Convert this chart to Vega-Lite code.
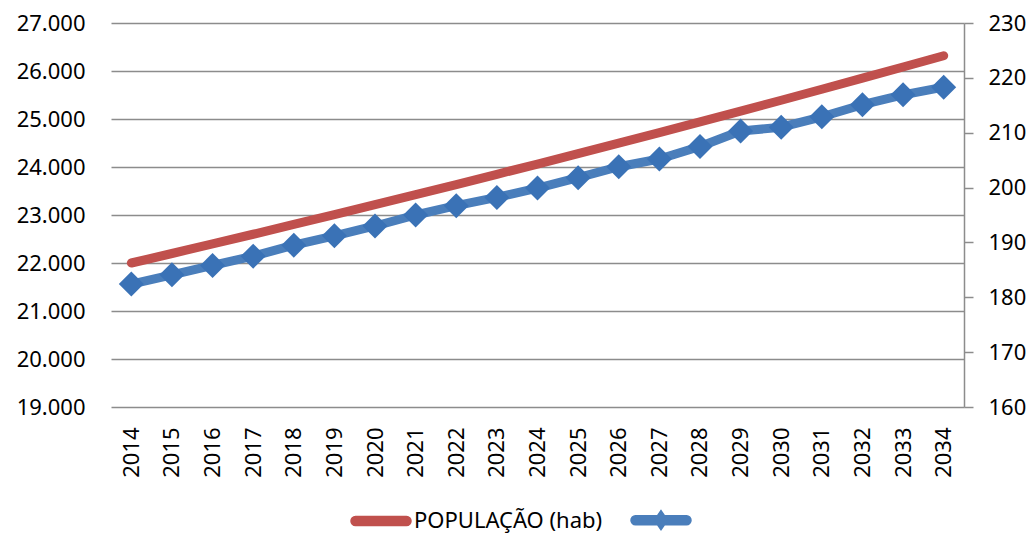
{
  "$schema": "https://vega.github.io/schema/vega-lite/v6.json",
  "width": 853,
  "height": 384,
  "autosize": {"type": "none"},
  "padding": {"left": 111, "top": 23, "right": 71, "bottom": 127},
  "background": "white",
  "config": {
    "view": {"stroke": null},
    "font": "Noto Sans",
    "locale": {"number": {"decimal": ",", "thousands": ".", "grouping": [3], "currency": ["R$", ""]}},
    "axis": {"labelFont": "Noto Sans", "labelFontSize": 22, "labelColor": "#000000", "title": null}
  },
  "data": {"values": [
    {"ano": "2014", "pop": 22000, "ind": 182.4},
    {"ano": "2015", "pop": 22198, "ind": 184.1},
    {"ano": "2016", "pop": 22398, "ind": 185.8},
    {"ano": "2017", "pop": 22599, "ind": 187.5},
    {"ano": "2018", "pop": 22803, "ind": 189.5},
    {"ano": "2019", "pop": 23008, "ind": 191.2},
    {"ano": "2020", "pop": 23215, "ind": 193.0},
    {"ano": "2021", "pop": 23424, "ind": 195.0},
    {"ano": "2022", "pop": 23635, "ind": 196.7},
    {"ano": "2023", "pop": 23848, "ind": 198.2},
    {"ano": "2024", "pop": 24062, "ind": 199.9},
    {"ano": "2025", "pop": 24279, "ind": 201.8},
    {"ano": "2026", "pop": 24497, "ind": 203.8},
    {"ano": "2027", "pop": 24718, "ind": 205.2},
    {"ano": "2028", "pop": 24940, "ind": 207.5},
    {"ano": "2029", "pop": 25165, "ind": 210.3},
    {"ano": "2030", "pop": 25391, "ind": 211.0},
    {"ano": "2031", "pop": 25620, "ind": 212.9},
    {"ano": "2032", "pop": 25851, "ind": 215.1},
    {"ano": "2033", "pop": 26083, "ind": 216.9},
    {"ano": "2034", "pop": 26318, "ind": 218.3}
  ]},
  "encoding": {
    "x": {
      "field": "ano", "type": "ordinal",
      "scale": {"type": "point", "padding": 0.5},
      "axis": {"labelAngle": 270, "labelPadding": 20, "ticks": false, "domain": false, "grid": false, "labelBaseline": "middle", "labelAlign": "right"}
    }
  },
  "layer": [
    {
      "mark": {"type": "line", "strokeWidth": 9, "strokeCap": "round"},
      "encoding": {
        "y": {
          "field": "pop", "type": "quantitative",
          "scale": {"domain": [19000, 27000], "nice": false, "zero": false},
          "axis": {"orient": "left", "values": [19000, 20000, 21000, 22000, 23000, 24000, 25000, 26000, 27000], "format": ",.0f", "domain": false, "ticks": false, "labelPadding": 26, "grid": true, "gridColor": "#8c8c8c", "gridWidth": 1.5}
        },
        "color": {
          "datum": "POPULAÇÃO (hab)",
          "scale": {"domain": ["POPULAÇÃO (hab)", " "], "range": ["#C0504D", "#4A7EBB"]},
          "legend": {
            "title": null,
            "orient": "none",
            "legendX": 239,
            "legendY": 466,
            "direction": "horizontal",
            "symbolSize": 3600,
            "labelFont": "Noto Sans",
            "labelFontSize": 22,
            "labelColor": "#000000",
            "labelLimit": 400,
            "labelOffset": 2,
            "columnPadding": 25,
            "encode": {
              "symbols": {
                "update": {
                  "shape": {"signal": "datum.value === ' ' ? 'M-0.85,-0.15 L0.85,-0.15 A0.15,0.15 0 0 1 0.85,0.15 L-0.85,0.15 A0.15,0.15 0 0 1 -0.85,-0.15 Z M0,-0.32 L0.22,0 L0,0.32 L-0.22,0 Z' : 'M-0.85,-0.15 L0.85,-0.15 A0.15,0.15 0 0 1 0.85,0.15 L-0.85,0.15 A0.15,0.15 0 0 1 -0.85,-0.15 Z'"},
                  "fill": {"signal": "datum.value === ' ' ? '#4A7EBB' : '#C0504D'"},
                  "stroke": {"value": "transparent"},
                  "size": {"value": 3600},
                  "opacity": {"value": 1}
                }
              }
            }
          }
        }
      }
    },
    {
      "encoding": {
        "y": {
          "field": "ind", "type": "quantitative",
          "scale": {"domain": [160, 230], "nice": false, "zero": false},
          "axis": {"orient": "right", "values": [160, 170, 180, 190, 200, 210, 220, 230], "domain": true, "domainColor": "#8c8c8c", "domainWidth": 1.5, "ticks": true, "tickColor": "#8c8c8c", "tickWidth": 1.5, "tickSize": 9, "labelPadding": 15, "grid": false}
        }
      },
      "layer": [
        {
          "mark": {"type": "line", "strokeWidth": 9, "strokeCap": "round", "strokeJoin": "round"},
          "encoding": {"color": {"datum": " "}}
        },
        {
          "mark": {"type": "point", "shape": "diamond", "size": 625, "filled": true, "color": "#3A72B6", "opacity": 1}
        }
      ]
    }
  ],
  "resolve": {"scale": {"y": "independent"}}
}
